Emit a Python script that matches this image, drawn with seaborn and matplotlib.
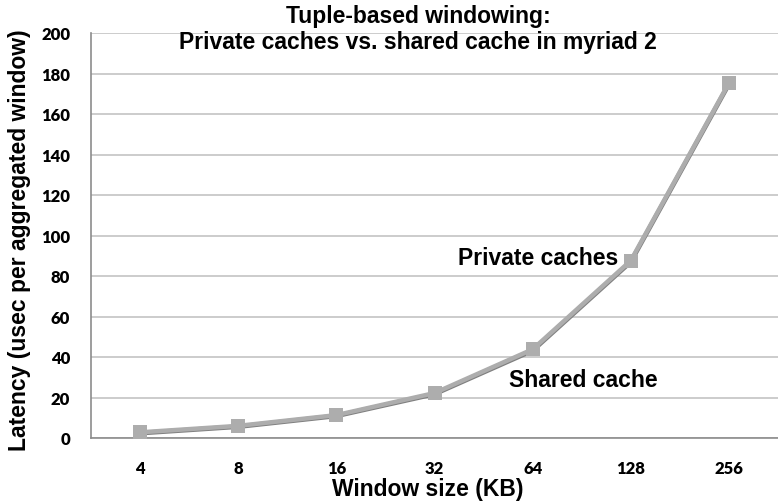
import matplotlib
matplotlib.use("Agg")
import matplotlib.pyplot as plt
import seaborn as sns
import pandas as pd

window_sizes = ["4", "8", "16", "32", "64", "128", "256"]
private_caches = [2.8, 6.0, 11.3, 22.2, 43.8, 87.6, 175.3]
shared_cache = [2.4, 5.6, 10.9, 21.7, 43.2, 87.0, 174.8]

df = pd.DataFrame({
    "size": window_sizes * 2,
    "latency": shared_cache + private_caches,
    "series": ["Shared cache"] * len(window_sizes) + ["Private caches"] * len(window_sizes),
})

sns.set_theme(style="white")
plt.rcParams["font.family"] = ["Liberation Sans", "DejaVu Sans"]
plt.rcParams["text.color"] = "black"

fig = plt.figure(figsize=(7.78, 5.02), dpi=100)
ax = fig.add_axes([91 / 778, 1 - 439 / 502, 1 - 91 / 778, (439 - 34) / 502])

ax.yaxis.grid(True, color="#c4c4c4", linewidth=1.2)
ax.set_axisbelow(True)

sns.lineplot(data=df[df.series == "Shared cache"], x="size", y="latency",
             color="#7f7f7f", linewidth=3.4, marker="s", markersize=6,
             markeredgewidth=0, ax=ax, zorder=3, legend=False)
sns.lineplot(data=df[df.series == "Private caches"], x="size", y="latency",
             color="#adadad", linewidth=3.2, marker="s", markersize=9.5,
             markeredgewidth=0, ax=ax, zorder=4, legend=False)

ax.set_xlim(-0.5, 6.4)
ax.set_ylim(0, 200)
ax.set_yticks(range(0, 201, 20))

for side in ["top", "right"]:
    ax.spines[side].set_visible(False)
for side in ["left", "bottom"]:
    ax.spines[side].set_color("#8c8c8c")
    ax.spines[side].set_linewidth(1.2)

# x ticks: labels at category centres, tick marks at category boundaries
ax.set_xticks(range(len(window_sizes)))
ax.set_xticklabels(window_sizes)
ax.set_xticks([i - 0.5 for i in range(len(window_sizes) + 1)], minor=True)
ax.tick_params(axis="x", which="major", length=0, pad=16)
ax.tick_params(axis="x", which="minor", length=6, width=1.2, color="#8c8c8c", direction="out")
ax.tick_params(axis="y", which="major", length=5, width=1.2, color="#8c8c8c", direction="out", pad=10)
for lab in ax.get_xticklabels() + ax.get_yticklabels():
    lab.set_fontfamily(["Lato", "DejaVu Sans"])
    lab.set_fontweight("heavy")
    lab.set_fontsize(12)
    lab.set_color("black")

ax.set_xlabel("")
ax.set_ylabel("")
fig.text(428 / 778, 1 - 490 / 502, "Window size (KB)", ha="center", va="center",
         fontsize=16.5, fontweight="bold")
fig.text(20 / 778, 1 - 240 / 502, "Latency (usec per aggregated window)", ha="center",
         va="center", rotation=90, fontsize=16.5, fontweight="bold")

fig.text(418 / 778, 1 - 16 / 502, "Tuple-based windowing:", ha="center", va="center",
         fontsize=16.5, fontweight="bold")
fig.text(418 / 778, 1 - 42 / 502, "Private caches vs. shared cache in myriad 2", ha="center",
         va="center", fontsize=16.5, fontweight="bold")

ax.text(4.87, 89, "Private caches", ha="right", va="center", fontsize=16.5, fontweight="bold")
ax.text(4.52, 29, "Shared cache", ha="center", va="center", fontsize=16.5, fontweight="bold")

fig.savefig("out.png", dpi=100)
